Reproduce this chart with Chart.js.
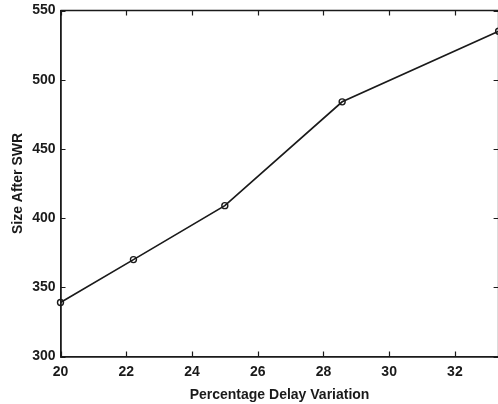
<!DOCTYPE html>
<html>
<head>
<meta charset="utf-8">
<script src="https://cdn.jsdelivr.net/npm/chart.js@4/dist/chart.umd.min.js"></script>
<style>
  html, body { margin: 0; padding: 0; background: #fff; overflow: hidden; }
  #wrap { width: 498px; height: 404px; position: relative; overflow: hidden; }
  canvas { display: block; }
</style>
</head>
<body>
<div id="wrap"><canvas id="c" width="504" height="404"></canvas></div>
<script>
const xValues = [20, 22.22, 25, 28.57, 33.33];
const yValues = [339, 370, 409, 484, 535];
const xTicks = [20, 22, 24, 26, 28, 30, 32];
const yTicks = [300, 350, 400, 450, 500, 550];
const xTitle = 'Percentage Delay Variation';
const yTitle = 'Size After SWR';

const INK = '#1a1a1a';
const FONT = '"Liberation Sans", Arial, Helvetica, sans-serif';

function noPad(s) {
  s.paddingTop = 0; s.paddingBottom = 0; s.paddingLeft = 0; s.paddingRight = 0;
}

const boxTicks = {
  id: 'boxTicks',
  afterDraw(chart) {
    const { ctx, chartArea: a, scales } = chart;
    const L = 5;
    ctx.save();
    ctx.strokeStyle = INK;
    ctx.lineWidth = 1.5;
    ctx.beginPath();
    ctx.moveTo(a.left, a.top); ctx.lineTo(a.right, a.top);
    ctx.moveTo(a.right, a.top); ctx.lineTo(a.right, a.bottom);
    ctx.stroke();
    ctx.lineWidth = 1.2;
    ctx.beginPath();
    xTicks.forEach(v => {
      const px = Math.round(scales.x.getPixelForValue(v)) + 0.5;
      ctx.moveTo(px, a.bottom); ctx.lineTo(px, a.bottom - L);
      ctx.moveTo(px, a.top); ctx.lineTo(px, a.top + L);
    });
    yTicks.forEach(v => {
      const py = Math.round(scales.y.getPixelForValue(v)) + 0.5;
      ctx.moveTo(a.left, py); ctx.lineTo(a.left + L, py);
      ctx.moveTo(a.right, py); ctx.lineTo(a.right - L, py);
    });
    ctx.stroke();
    ctx.restore();
  }
};

new Chart(document.getElementById('c'), {
  type: 'line',
  data: {
    datasets: [{
      data: xValues.map((x, i) => ({ x, y: yValues[i] })),
      borderColor: INK,
      borderWidth: 1.7,
      backgroundColor: 'rgba(0,0,0,0)',
      pointRadius: 3,
      pointBorderWidth: 1.4,
      pointBorderColor: INK,
      pointBackgroundColor: 'rgba(0,0,0,0)',
      tension: 0,
      clip: false
    }]
  },
  options: {
    responsive: false,
    animation: false,
    devicePixelRatio: 1,
    layout: { padding: { top: 10.5, right: 0, left: 0, bottom: 0 } },
    plugins: { legend: { display: false }, tooltip: { enabled: false } },
    scales: {
      x: {
        type: 'linear',
        min: 20,
        max: 33.33,
        afterBuildTicks: s => { s.ticks = xTicks.map(v => ({ value: v })); },
        afterFit: s => { s.height = 47.5; noPad(s); },
        grid: { display: false, drawTicks: false },
        border: { display: true, color: INK, width: 1.8 },
        ticks: { color: INK, padding: 7, maxRotation: 0, font: { family: FONT, size: 14, weight: 'bold' } },
        title: { display: true, text: xTitle, color: INK, padding: { top: 2, bottom: 0 }, font: { family: FONT, size: 14, weight: 'bold' } }
      },
      y: {
        type: 'linear',
        min: 300,
        max: 550,
        afterBuildTicks: s => { s.ticks = yTicks.map(v => ({ value: v })); },
        afterFit: s => { s.width = 60.5; noPad(s); },
        grid: { display: false, drawTicks: false },
        border: { display: true, color: INK, width: 1.8 },
        ticks: { color: INK, padding: 5, font: { family: FONT, size: 14, weight: 'bold' } },
        title: { display: true, text: yTitle, color: INK, padding: { top: 10, bottom: 4 }, font: { family: FONT, size: 14, weight: 'bold' } }
      }
    }
  },
  plugins: [boxTicks]
});
</script>
</body>
</html>
